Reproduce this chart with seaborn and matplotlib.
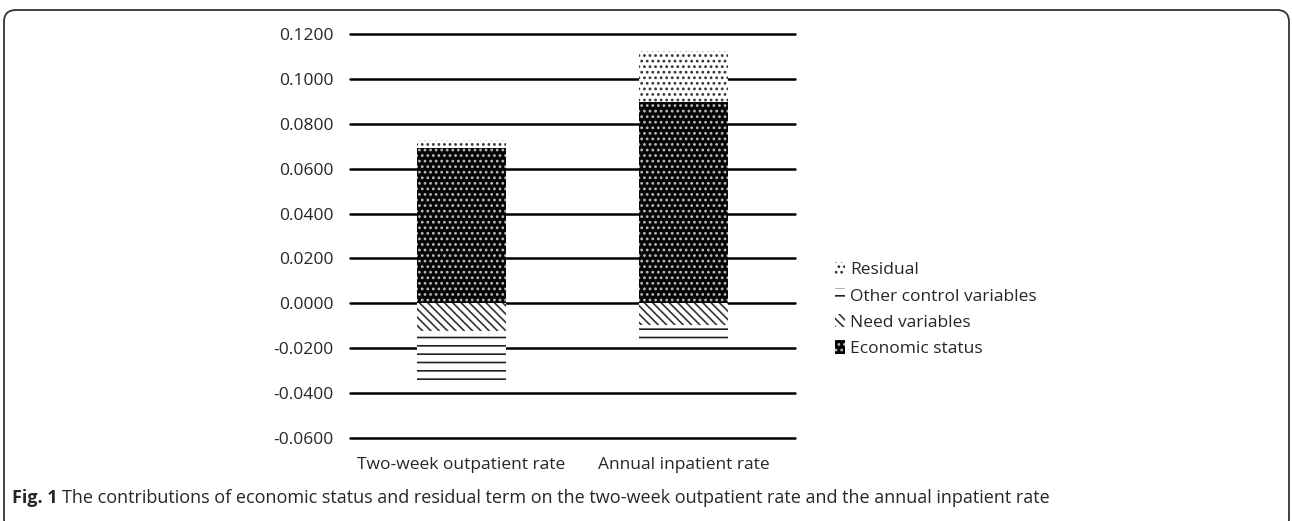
import matplotlib.pyplot as plt
import matplotlib.patches as mpatches
import pandas as pd
import seaborn as sns

# values
categories = ['Two-week outpatient rate', 'Annual inpatient rate']
economic_status = [0.0693, 0.0895]
residual = [0.0036, 0.0228]
need_variables = [-0.0125, -0.0097]
other_control = [-0.0225, -0.0076]
yticks = [-0.06, -0.04, -0.02, 0.0, 0.02, 0.04, 0.06, 0.08, 0.10, 0.12]

sns.set_style('white')
plt.rcParams['font.family'] = ['Open Sans', 'DejaVu Sans']
plt.rcParams['hatch.linewidth'] = 1.2
txt = '#262626'

df = pd.DataFrame({'cat': categories,
                   'eco': economic_status,
                   'pos_top': [e + r for e, r in zip(economic_status, residual)],
                   'need': need_variables,
                   'neg_bottom': [n + o for n, o in zip(need_variables, other_control)]})

fig = plt.figure(figsize=(12.92, 5.21), dpi=100)
ax = fig.add_axes([350 / 1292, 83 / 521, 445 / 1292, 404 / 521])

# stacked by overdrawing cumulative totals
styles = [('pos_top', 'white', '#333333', '...'),
          ('eco', '#050505', '#bbbbbb', '...'),
          ('neg_bottom', 'white', '#222222', '--'),
          ('need', 'white', '#333333', '\\\\\\\\')]
for col, face, hcol, hatch in styles:
    sns.barplot(data=df, x='cat', y=col, ax=ax, color=face, saturation=1,
                width=0.4, hatch=hatch, edgecolor=hcol, linewidth=0, zorder=3)

ax.set_xlim(-0.5, 1.5)
ax.set_ylim(-0.06, 0.12)
ax.set_yticks(yticks)
ax.set_yticklabels(['%.4f' % v for v in yticks])
ax.yaxis.grid(True, color='black', lw=1.8)
for gl in ax.get_ygridlines():
    gl.set_clip_on(False)
ax.set_axisbelow(True)
for s in ax.spines.values():
    s.set_visible(False)
ax.tick_params(length=0, labelsize=12.5, labelcolor=txt, pad=12)
ax.tick_params(axis='x', pad=14)
ax.set_xlabel('')
ax.set_ylabel('')

handles = [mpatches.Patch(facecolor='white', edgecolor='#333333', hatch='...', lw=0, label='Residual'),
           mpatches.Patch(facecolor='white', edgecolor='#222222', hatch='--', lw=0, label='Other control variables'),
           mpatches.Patch(facecolor='white', edgecolor='#333333', hatch='\\\\\\\\', lw=0, label='Need variables'),
           mpatches.Patch(facecolor='#050505', edgecolor='#bbbbbb', hatch='...', lw=0, label='Economic status')]
leg = fig.legend(handles=handles, loc='upper left', bbox_to_anchor=(826 / 1292, 1 - 253 / 521),
                 frameon=False, fontsize=12.5, handlelength=0.6, handleheight=0.8,
                 handletextpad=0.3, labelspacing=0.55, borderpad=0)
for t in leg.get_texts():
    t.set_color(txt)

fig.text(12 / 1292, 1 - 498 / 521, 'Fig. 1', fontsize=13, fontweight='bold', color=txt, va='center')
fig.text(62 / 1292, 1 - 498 / 521,
         'The contributions of economic status and residual term on the two-week outpatient rate and the annual inpatient rate',
         fontsize=13, color=txt, va='center')

border = mpatches.FancyBboxPatch((0.04, -0.1), 12.85, 5.21, boxstyle='round,pad=0,rounding_size=0.12',
                                 transform=fig.dpi_scale_trans, fill=False, edgecolor='#333333', lw=1.3)
fig.patches.append(border)

fig.savefig('out.png', dpi=100)
